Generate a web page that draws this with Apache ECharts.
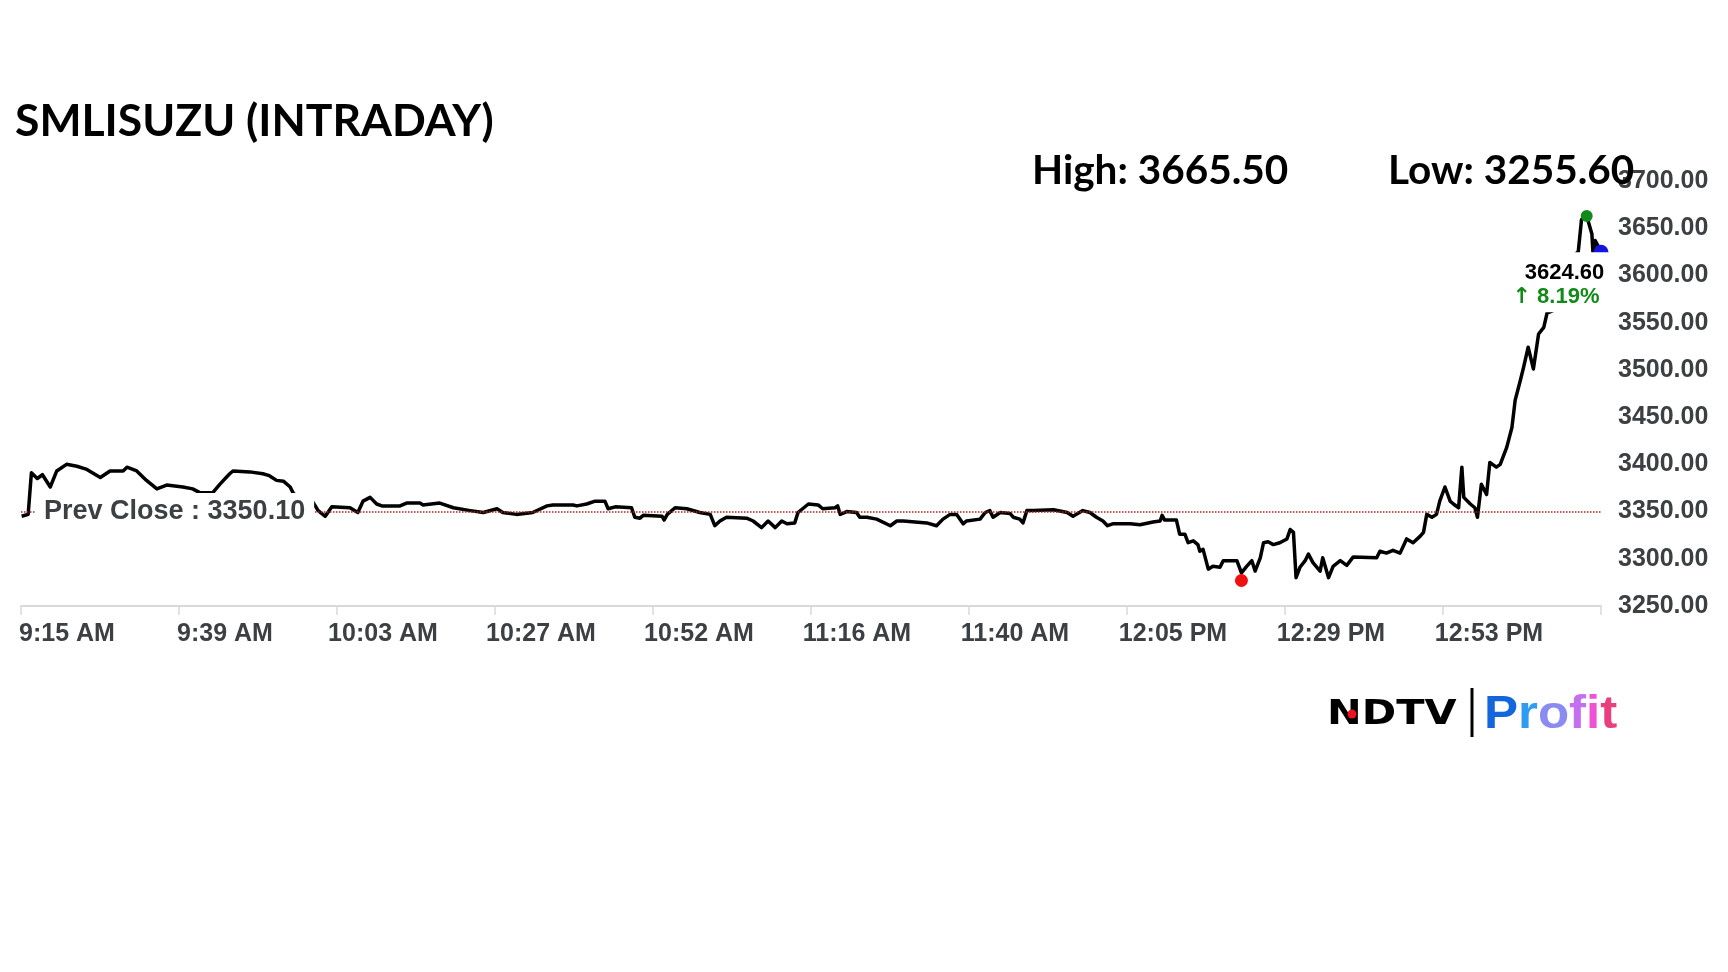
<!DOCTYPE html>
<html>
<head>
<meta charset="utf-8">
<script src="https://cdn.jsdelivr.net/npm/echarts/dist/echarts.min.js"></script>
<style>
html,body{margin:0;padding:0;background:#fff;}
#chart{width:1728px;height:972px;}
</style>
</head>
<body>
<div id="chart"></div>
<script>
// ---- data (minutes after 9:15 AM, price) ----
const times = [0.1,1.1,1.6,2.5,3.3,4.5,5.5,7.0,8.6,10.0,12.2,13.7,15.7,16.3,17.8,19.3,20.9,22.4,24.9,26.4,27.5,29.5,30.6,32.1,32.6,35.2,37.2,38.2,39.3,40.4,41.4,41.9,43.5,44.9,45.7,46.8,47.8,50.6,51.8,52.6,53.7,54.7,55.5,58.3,59.3,61.4,61.8,64.4,66.5,69.1,71.1,73.2,74.1,76.2,78.7,80.9,81.8,84.9,85.5,87.0,88.3,89.8,90.3,91.4,93.9,94.4,95.2,95.7,98.6,98.9,99.4,100.6,102.4,104.4,106.0,106.7,107.5,108.5,111.6,112.6,113.9,114.9,116.0,117.0,117.8,119.0,119.5,121.1,122.6,123.3,125.2,125.6,126.0,127.0,128.5,129.0,130.1,131.6,133.7,134.7,135.7,139.3,140.8,141.8,142.9,143.9,144.9,145.4,147.5,148.3,149.0,149.5,150.6,152.1,152.6,153.6,154.1,154.7,155.7,158.8,160.9,161.8,163.3,164.4,165.4,166.4,167.1,167.9,170.6,172.1,174.1,175.2,175.5,175.9,177.7,178.2,179.0,179.5,180.3,181.0,181.3,181.8,182.6,183.3,184.4,184.9,187.0,187.7,188.5,189.3,189.8,190.6,191.1,191.8,192.6,193.6,194.7,195.2,195.7,196.1,196.7,197.5,198.0,198.7,199.8,200.2,201.1,201.8,202.9,203.9,204.9,208.5,209.0,210.0,211.0,212.1,213.1,214.1,215.2,215.7,216.2,217.0,217.7,218.2,219.0,219.8,220.3,221.1,221.6,221.9,222.9,223.6,224.0,224.6,225.4,225.9,226.9,227.5,228.5,229.3,229.8,230.6,231.1,231.8,232.6,233.4,234.2,234.7,235.7,236.7,237.7,239.0,239.5,240.0,240.8,241.6,241.8,242.1,242.5,243.0];
const prices = [3345,3347,3391,3385,3389,3376,3393,3400,3398,3395,3386,3393,3393,3397,3393,3383,3374,3378,3376,3374,3370,3370,3379,3390,3393,3392,3390,3388,3383,3382,3376,3369,3364,3360,3351,3345,3355,3354,3349,3361,3365,3358,3356,3356,3359,3359,3357,3359,3354,3351,3349,3353,3349,3347,3349,3356,3357,3357,3356,3358,3361,3361,3353,3355,3354,3344,3343,3346,3345,3341,3347,3354,3353,3349,3347,3335,3340,3344,3343,3340,3333,3340,3333,3340,3337,3338,3349,3358,3357,3353,3354,3356,3347,3350,3349,3344,3344,3342,3335,3340,3340,3338,3335,3342,3347,3347,3337,3340,3342,3349,3351,3344,3349,3348,3344,3342,3338,3351,3351,3352,3349,3345,3351,3349,3344,3340,3335,3337,3337,3336,3339,3340,3346,3341,3341,3326,3326,3317,3319,3315,3308,3310,3289,3292,3291,3298,3298,3285,3292,3298,3287,3301,3317,3318,3315,3317,3321,3331,3328,3280,3291,3298,3305,3296,3287,3301,3280,3292,3298,3293,3302,3301,3308,3306,3309,3306,3321,3317,3324,3328,3347,3344,3347,3361,3376,3361,3358,3354,3397,3365,3358,3354,3344,3379,3368,3402,3397,3400,3418,3439,3468,3489,3503,3524,3501,3538,3545,3560,3563,3590,3620,3622,3625,3659,3663,3644,3620,3637,3632,3624.6];
const xTickLabels = ['9:15 AM','9:39 AM','10:03 AM','10:27 AM','10:52 AM','11:16 AM','11:40 AM','12:05 PM','12:29 PM','12:53 PM',''];
const prevClose = 3350.10;
const dayHigh = 3665.50;
const dayLow = 3255.60;
const lastPrice = 3624.60;
const highPoint = [240.8, 3663];
const lowPoint = [187.7, 3277];
const lastTime = 243;

// ---- chart ----
const seriesData = times.map((t, i) => [t, prices[i]]);
const pct = ((lastPrice - prevClose) / prevClose * 100).toFixed(2);
const tickStep = 24.3;
const gray = '#3d4043';

const chart = echarts.init(document.getElementById('chart'), null, {renderer: 'canvas'});
chart.setOption({
  animation: false,
  backgroundColor: '#ffffff',
  title: [
    {text: 'SMLISUZU (INTRADAY)', left: 15, top: 99, padding: 0,
     textStyle: {fontFamily: 'Lato', fontWeight: 'bold', fontSize: 44.5, color: '#000'}},
    {text: 'High: ' + dayHigh.toFixed(2), left: 1032, top: 150, padding: 0,
     textStyle: {fontFamily: 'Lato', fontWeight: 'bold', fontSize: 40.5, color: '#000'}},
    {text: 'Low: ' + dayLow.toFixed(2), left: 1388, top: 150, padding: 0,
     textStyle: {fontFamily: 'Lato', fontWeight: 'bold', fontSize: 40.5, color: '#000'}}
  ],
  grid: {left: 21, right: 127, top: 181, bottom: 366, containLabel: false},
  xAxis: {
    type: 'value', min: 0, max: 243, interval: tickStep,
    axisLine: {show: true, lineStyle: {color: '#d9d9d9', width: 2}},
    axisTick: {show: true, length: 9, lineStyle: {color: '#d9d9d9', width: 1.5}},
    splitLine: {show: false},
    axisLabel: {
      show: true, margin: 16, align: 'center', padding: [0, 0, 0, 92],
      fontFamily: 'Liberation Sans', fontWeight: 'bold', fontSize: 25, color: gray,
      formatter: v => xTickLabels[Math.round(v / tickStep)] || ''
    }
  },
  yAxis: {
    type: 'value', position: 'right', min: 3250, max: 3700, interval: 50,
    axisLine: {show: false}, axisTick: {show: false}, splitLine: {show: false},
    axisLabel: {
      margin: 17, padding: [12, 0, 0, 0], fontFamily: 'Liberation Sans', fontWeight: 'bold', fontSize: 25, color: gray,
      formatter: v => v.toFixed(2)
    }
  },
  series: [{
    type: 'line',
    data: seriesData,
    showSymbol: false,
    symbol: 'none',
    lineStyle: {color: '#000', width: 3.5, join: 'round'},
    z: 2,
    markLine: {
      silent: true, symbol: ['none', 'none'],
      lineStyle: {color: '#b22222', type: 'dotted', width: 1.5},
      label: {
        show: true, position: 'start', distance: -14, align: 'left', verticalAlign: 'middle',
        backgroundColor: '#fff', padding: [6, 9, 4, 9],
        fontFamily: 'Liberation Sans', fontWeight: 'bold', fontSize: 27, color: gray,
        formatter: () => 'Prev Close : ' + prevClose.toFixed(2)
      },
      data: [{yAxis: prevClose}]
    },
    markPoint: {
      silent: true,
      data: [
        {coord: lowPoint, symbol: 'circle', symbolSize: 13, itemStyle: {color: '#f01010'}, label: {show: false}},
        {coord: highPoint, symbol: 'circle', symbolSize: 12, itemStyle: {color: '#118a1a'}, label: {show: false}},
        {coord: [lastTime, lastPrice], symbol: 'circle', symbolSize: 15, itemStyle: {color: '#1414e0'},
         label: {
           show: true, position: 'inside', offset: [-45, 30], align: 'center', verticalAlign: 'middle',
           backgroundColor: '#fff', padding: [9, 6, 3, 6], lineHeight: 24,
           formatter: '{s|}{v|' + lastPrice.toFixed(2) + '}\n{a|↑}{p| ' + pct + '%}',
           rich: {
             v: {fontFamily: 'Liberation Sans', fontWeight: 'bold', fontSize: 22, color: '#000', lineHeight: 24},
             a: {fontFamily: 'DejaVu Sans', fontWeight: 'bold', fontSize: 22, color: '#138a18', lineHeight: 24},
             p: {fontFamily: 'Liberation Sans', fontWeight: 'bold', fontSize: 22, color: '#138a18', lineHeight: 24},
             s: {width: 17, lineHeight: 24}
           }
         }}
      ]
    }
  }],
  graphic: [
    {type: 'text', x: 1327, y: 715, scaleX: 1.22,
     style: {text: 'NDTV', fill: '#000', font: 'bold 34px "DejaVu Sans"', verticalAlign: 'middle', align: 'left'}},
    {type: 'circle', shape: {cx: 1352, cy: 714, r: 4.5}, style: {fill: '#e8141e'}},
    {type: 'line', shape: {x1: 1472, y1: 688, x2: 1472, y2: 737}, style: {stroke: '#000', lineWidth: 3}},
    {type: 'text', x: 1484, y: 715, scaleX: 1.11,
     style: {
       text: '{a|P}{b|r}{c|o}{d|f}{e|i}{f|t}', verticalAlign: 'middle', align: 'left',
       font: 'bold 46px "Liberation Sans"',
       rich: {
         a: {fill: '#1466dc', font: 'bold 46px "Liberation Sans"'},
         b: {fill: '#2f9cf2', font: 'bold 46px "Liberation Sans"'},
         c: {fill: '#8a8cf2', font: 'bold 46px "Liberation Sans"'},
         d: {fill: '#c46ff0', font: 'bold 46px "Liberation Sans"'},
         e: {fill: '#f052d6', font: 'bold 46px "Liberation Sans"'},
         f: {fill: '#e8407e', font: 'bold 46px "Liberation Sans"'}
       }
     }}
  ]
});
</script>
</body>
</html>
